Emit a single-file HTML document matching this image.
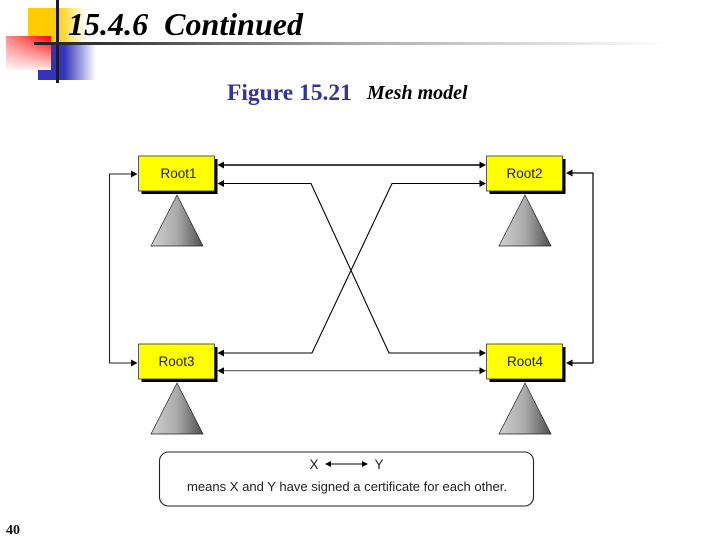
<!DOCTYPE html>
<html>
<head>
<meta charset="utf-8">
<style>
html,body{margin:0;padding:0;background:#fff;width:720px;height:540px;overflow:hidden}
svg{display:block}
</style>
</head>
<body>
<svg width="720" height="540" viewBox="0 0 720 540" xmlns="http://www.w3.org/2000/svg">
<defs>
<linearGradient id="ye" x1="0" x2="1" y1="0" y2="0"><stop offset="0" stop-color="#ffcc00"/><stop offset="0.5" stop-color="#ffcc00"/><stop offset="1" stop-color="#ffffff"/></linearGradient>
<linearGradient id="bl" x1="0" x2="1" y1="0" y2="0"><stop offset="0" stop-color="#3333bb"/><stop offset="0.45" stop-color="#3333bb"/><stop offset="1" stop-color="#ffffff"/></linearGradient>
<linearGradient id="re" x1="0" x2="1" y1="0" y2="0"><stop offset="0" stop-color="#ff8a8a"/><stop offset="1" stop-color="#ff0000"/></linearGradient>
<linearGradient id="wh" x1="0" x2="0" y1="0" y2="1"><stop offset="0" stop-color="#ffffff" stop-opacity="0"/><stop offset="1" stop-color="#ffffff" stop-opacity="0.92"/></linearGradient>
<linearGradient id="hl" x1="0" x2="1" y1="0" y2="0"><stop offset="0" stop-color="#222222"/><stop offset="0.1" stop-color="#333333"/><stop offset="0.5" stop-color="#aaaaaa"/><stop offset="1" stop-color="#ffffff"/></linearGradient>
<linearGradient id="tri" x1="0" x2="1" y1="0" y2="0"><stop offset="0" stop-color="#d0d0d0"/><stop offset="0.5" stop-color="#aaaaaa"/><stop offset="1" stop-color="#505050"/></linearGradient>
</defs>

<rect x="28" y="8" width="58" height="38" fill="url(#ye)"/>
<rect x="38" y="45" width="58" height="35" fill="url(#bl)"/>
<rect x="6" y="36" width="45" height="34" fill="url(#re)"/>
<rect x="6" y="36" width="45" height="34" fill="url(#wh)"/>
<rect x="56" y="0" width="3" height="83" fill="#1a1a33"/>
<rect x="34" y="42" width="636" height="3" fill="url(#hl)"/>

<text x="68" y="35" font-family="'Liberation Serif',serif" font-size="32" font-weight="bold" font-style="italic" fill="#000" xml:space="preserve" textLength="235" lengthAdjust="spacing">15.4.6  Continued</text>
<text x="227" y="100" font-family="'Liberation Serif',serif" font-size="23.5" font-weight="bold" fill="#333399">Figure 15.21</text>
<text x="367" y="99" font-family="'Liberation Serif',serif" font-size="20" font-weight="bold" font-style="italic" fill="#000">Mesh model</text>
<text x="6" y="534" font-family="'Liberation Serif',serif" font-size="14" font-weight="bold" fill="#111">40</text>

<!-- triangles -->
<polygon points="177,195 151,246 203,246" fill="url(#tri)" stroke="#222" stroke-width="0.7"/>
<polygon points="525,195 499,246 551,246" fill="url(#tri)" stroke="#222" stroke-width="0.7"/>
<polygon points="177,383 151,434 203,434" fill="url(#tri)" stroke="#222" stroke-width="0.7"/>
<polygon points="525,383 499,434 551,434" fill="url(#tri)" stroke="#222" stroke-width="0.7"/>

<!-- boxes -->
<rect x="141.5" y="159" width="76" height="35" fill="#000"/>
<rect x="138.5" y="156" width="76" height="35" fill="#ffff00" stroke="#333" stroke-width="0.8"/>
<rect x="489.5" y="159" width="76" height="35" fill="#000"/>
<rect x="486.5" y="156" width="76" height="35" fill="#ffff00" stroke="#333" stroke-width="0.8"/>
<rect x="141.5" y="347" width="76" height="35" fill="#000"/>
<rect x="138.5" y="344" width="76" height="35" fill="#ffff00" stroke="#333" stroke-width="0.8"/>
<rect x="489.5" y="347" width="76" height="35" fill="#000"/>
<rect x="486.5" y="344" width="76" height="35" fill="#ffff00" stroke="#333" stroke-width="0.8"/>

<g font-family="'Liberation Sans',sans-serif" font-size="13.5" fill="#222" text-anchor="middle">
<text x="178.5" y="178">Root1</text>
<text x="524.5" y="178">Root2</text>
<text x="176.5" y="366">Root3</text>
<text x="525" y="366">Root4</text>
</g>

<!-- connectors -->
<g fill="none" stroke="#000">
<path d="M222 165H482" stroke-width="1.5"/>
<path d="M222 183.5H311L389 353H482" stroke-width="1.1"/>
<path d="M482 183.5H392L312 353H222" stroke-width="1.1"/>
<path d="M222 370.7H482" stroke-width="1.2" stroke="#555"/>
<path d="M133 174H109.5V363H133" stroke-width="1.1" stroke="#222"/>
<path d="M570 173H593V363H570" stroke-width="1.2"/>
</g>
<!-- arrowheads -->
<g fill="#000">
<polygon points="217.5,165 224,161.5 224,168.5"/>
<polygon points="217.5,183.5 224,180 224,187"/>
<polygon points="486,165 479.5,161.5 479.5,168.5"/>
<polygon points="486,183.5 479.5,180 479.5,187"/>
<polygon points="217.5,353 224,349.5 224,356.5"/>
<polygon points="217.5,370.7 224,367.2 224,374.2"/>
<polygon points="486,353 479.5,349.5 479.5,356.5"/>
<polygon points="486,370.7 479.5,367.2 479.5,374.2"/>
<polygon points="137.5,174 131,170.5 131,177.5"/>
<polygon points="137.5,363 131,359.5 131,366.5"/>
<polygon points="566,173 572.5,169.5 572.5,176.5"/>
<polygon points="566,363 572.5,359.5 572.5,366.5"/>
</g>

<!-- legend -->
<rect x="159.5" y="452" width="374" height="54" rx="9" ry="9" fill="#fff" stroke="#222" stroke-width="1.1"/>
<g font-family="'Liberation Sans',sans-serif" fill="#222">
<text x="314" y="469" font-size="13.5" text-anchor="middle">X</text>
<text x="379" y="469" font-size="13.5" text-anchor="middle">Y</text>
<text x="187" y="491" font-size="13" textLength="320" lengthAdjust="spacingAndGlyphs">means X and Y have signed a certificate for each other.</text>
</g>
<path d="M328 464H364" stroke="#000" stroke-width="1.1"/>
<polygon points="325,464 331,461 331,467" fill="#000"/>
<polygon points="368,464 362,461 362,467" fill="#000"/>
</svg>
</body>
</html>
